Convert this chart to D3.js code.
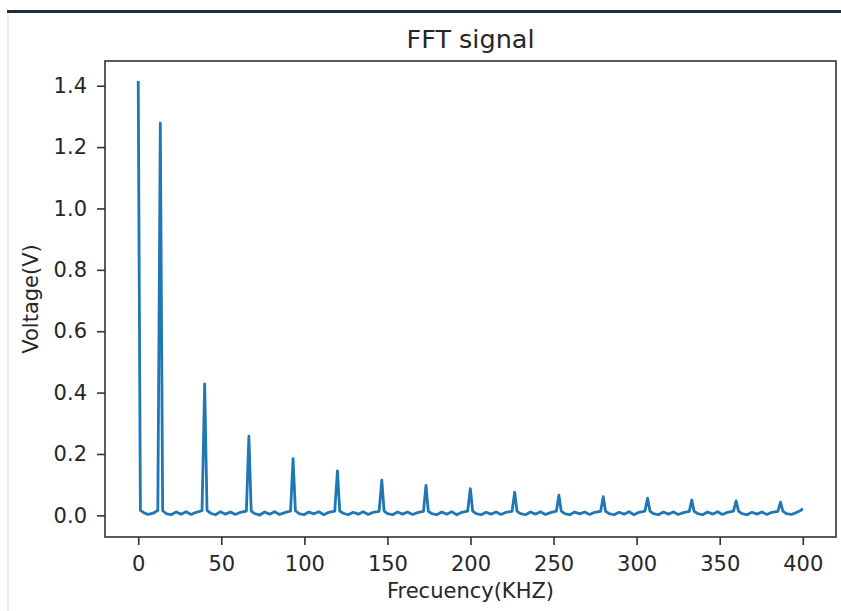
<!DOCTYPE html>
<html>
<head>
<meta charset="utf-8">
<script src="https://cdn.jsdelivr.net/npm/d3@7"></script>
<style>
  html, body { margin: 0; padding: 0; background: #fff; }
  svg { display: block; }
  text { font-family: "DejaVu Sans", sans-serif; fill: #262626; }
</style>
</head>
<body>
<svg id="chart" width="841" height="611"></svg>
<script>
// ---- data ----
const freqKHz = [
  0, 1.3, 3.5, 6.0, 9.0, 11.8, 13.3,
  14.7, 16.8, 19.8, 22.8, 25.8, 28.8, 31.8, 34.8, 38.4, 40.0,
  41.4, 43.5, 46.5, 49.5, 52.5, 55.5, 58.5, 61.5, 65.1, 66.6,
  68.0, 70.1, 73.1, 76.1, 79.1, 82.1, 85.1, 88.1, 91.7, 93.2,
  94.6, 96.7, 99.7, 102.7, 105.7, 108.7, 111.7, 114.7, 118.3, 119.9,
  121.3, 123.4, 126.4, 129.4, 132.4, 135.4, 138.4, 141.4, 145.0, 146.6,
  148.0, 150.1, 153.1, 156.1, 159.1, 162.1, 165.1, 168.1, 171.7, 173.2,
  174.6, 176.7, 179.7, 182.7, 185.7, 188.7, 191.7, 194.7, 198.3, 199.9,
  201.3, 203.4, 206.4, 209.4, 212.4, 215.4, 218.4, 221.4, 225.0, 226.6,
  228.0, 230.1, 233.1, 236.1, 239.1, 242.1, 245.1, 248.1, 251.7, 253.2,
  254.6, 256.7, 259.7, 262.7, 265.7, 268.7, 271.7, 274.7, 278.3, 279.9,
  281.3, 283.4, 286.4, 289.4, 292.4, 295.4, 298.4, 301.4, 305.0, 306.6,
  308.0, 310.1, 313.1, 316.1, 319.1, 322.1, 325.1, 328.1, 331.7, 333.2,
  334.6, 336.7, 339.7, 342.7, 345.7, 348.7, 351.7, 354.7, 358.3, 359.9,
  361.3, 363.4, 366.4, 369.4, 372.4, 375.4, 378.4, 381.4, 385.0, 386.6,
  388.0, 390.1, 393.1, 396.1, 398.5, 400.0
];
const voltageV = [
  1.415, 0.016, 0.008, 0.003, 0.007, 0.016, 1.278,
  0.015, 0.006, 0.002, 0.011, 0.004, 0.012, 0.003, 0.010, 0.015, 0.428,
  0.016, 0.007, 0.002, 0.012, 0.004, 0.011, 0.003, 0.010, 0.014, 0.258,
  0.014, 0.006, 0.001, 0.011, 0.004, 0.012, 0.003, 0.009, 0.014, 0.185,
  0.015, 0.006, 0.002, 0.011, 0.005, 0.012, 0.002, 0.010, 0.014, 0.145,
  0.014, 0.007, 0.002, 0.010, 0.004, 0.012, 0.003, 0.010, 0.013, 0.115,
  0.014, 0.006, 0.002, 0.011, 0.004, 0.011, 0.003, 0.009, 0.013, 0.098,
  0.013, 0.006, 0.002, 0.011, 0.004, 0.012, 0.002, 0.010, 0.014, 0.087,
  0.014, 0.006, 0.002, 0.010, 0.004, 0.011, 0.003, 0.010, 0.013, 0.076,
  0.013, 0.006, 0.002, 0.011, 0.004, 0.012, 0.003, 0.009, 0.014, 0.066,
  0.014, 0.006, 0.002, 0.011, 0.005, 0.011, 0.003, 0.010, 0.013, 0.061,
  0.013, 0.006, 0.002, 0.010, 0.004, 0.012, 0.002, 0.010, 0.014, 0.056,
  0.014, 0.006, 0.002, 0.011, 0.004, 0.011, 0.003, 0.009, 0.013, 0.050,
  0.013, 0.006, 0.002, 0.011, 0.004, 0.012, 0.003, 0.010, 0.014, 0.047,
  0.014, 0.006, 0.002, 0.010, 0.004, 0.011, 0.003, 0.010, 0.013, 0.043,
  0.014, 0.006, 0.003, 0.009, 0.015, 0.022
];
const xTicks = [0, 50, 100, 150, 200, 250, 300, 350, 400];
const yTicks = [0.0, 0.2, 0.4, 0.6, 0.8, 1.0, 1.2, 1.4];
const titleText = "FFT signal";
const xLabelText = "Frecuency(KHZ)";
const yLabelText = "Voltage(V)";

// ---- layout ----
const svg = d3.select("#chart");
const plot = { left: 105, right: 836, top: 61, bottom: 537 };

// screenshot frame artifacts
svg.append("rect").attr("x", 7).attr("y", 10).attr("width", 834).attr("height", 3).attr("fill", "#1e2d3b");
svg.append("rect").attr("x", 7).attr("y", 13).attr("width", 2).attr("height", 598).attr("fill", "#ececec");

const x = d3.scaleLinear().domain([-20, 420]).range([plot.left, plot.right]);
const y = d3.scaleLinear().domain([-0.0705, 1.4805]).range([plot.bottom, plot.top]);

const data = freqKHz.map((f, i) => ({ f, v: voltageV[i] }));

// line
const line = d3.line().x(d => x(d.f)).y(d => y(d.v)).curve(d3.curveLinear);
svg.append("path")
  .datum(data)
  .attr("d", line)
  .attr("fill", "none")
  .attr("stroke", "#1f77b4")
  .attr("stroke-width", 2.8)
  .attr("stroke-linejoin", "round");

// axes
const xAxis = d3.axisBottom(x).tickValues(xTicks).tickFormat(d3.format("d")).tickSizeInner(8).tickSizeOuter(0).tickPadding(11);
const yAxis = d3.axisLeft(y).tickValues(yTicks).tickFormat(d3.format(".1f")).tickSizeInner(8).tickSizeOuter(0).tickPadding(10);

const gx = svg.append("g").attr("transform", `translate(0,${plot.bottom})`).call(xAxis);
const gy = svg.append("g").attr("transform", `translate(${plot.left},0)`).call(yAxis);
[gx, gy].forEach(g => {
  g.select(".domain").remove();
  g.selectAll(".tick line").attr("stroke", "#333").attr("stroke-width", 1.6);
  g.selectAll(".tick text").attr("font-size", 21).attr("fill", "#262626")
    .attr("font-family", "DejaVu Sans, sans-serif");
});

// frame
svg.append("rect")
  .attr("x", plot.left).attr("y", plot.top)
  .attr("width", plot.right - plot.left).attr("height", plot.bottom - plot.top)
  .attr("fill", "none").attr("stroke", "#333").attr("stroke-width", 1.6);

// title & labels
svg.append("text").attr("x", (plot.left + plot.right) / 2).attr("y", 48)
  .attr("text-anchor", "middle").attr("font-size", 25.5).text(titleText);
svg.append("text").attr("x", (plot.left + plot.right) / 2).attr("y", 598)
  .attr("text-anchor", "middle").attr("font-size", 21).text(xLabelText);
svg.append("text")
  .attr("transform", `translate(38,${(plot.top + plot.bottom) / 2}) rotate(-90)`)
  .attr("text-anchor", "middle").attr("font-size", 21).text(yLabelText);
</script>
</body>
</html>
